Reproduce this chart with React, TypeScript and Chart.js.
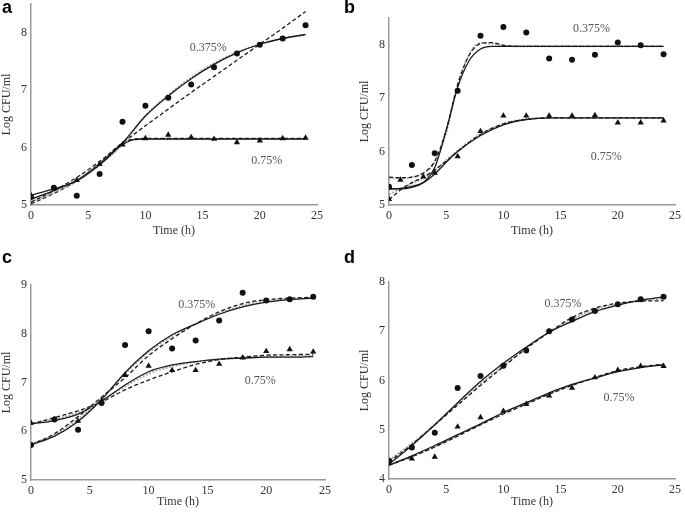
import React, { useEffect, useRef } from "react";
import { Chart, registerables } from "chart.js";

Chart.register(...registerables);

// ---------- Panel a ----------
const aTime375 = [0, 2, 4, 6, 8, 10, 12, 14, 16, 18, 20, 22, 24];
const aLog375 = [5.14, 5.3, 5.16, 5.54, 6.45, 6.73, 6.87, 7.1, 7.4, 7.64, 7.79, 7.9, 8.13];
const aTime75 = [0, 2, 4, 6, 8, 10, 12, 14, 16, 18, 20, 22, 24];
const aLog75 = [5.17, 5.29, 5.43, 5.71, 6.05, 6.16, 6.22, 6.18, 6.15, 6.09, 6.12, 6.16, 6.17];
const aFitTime375 = [0, 2, 4, 6, 8, 10, 12, 14, 16, 18, 20, 22, 24];
const aFitSolid375 = [5.17, 5.28, 5.42, 5.7, 6.08, 6.55, 6.9, 7.2, 7.45, 7.65, 7.8, 7.9, 7.97];
const aFitDash375 = [5.05, 5.25, 5.48, 5.76, 6.08, 6.38, 6.67, 6.96, 7.24, 7.52, 7.8, 8.08, 8.37];
const aFitGray375 = [5.05, 5.22, 5.42, 5.7, 6.06, 6.55, 6.92, 7.22, 7.47, 7.66, 7.8, 7.9, 7.96];
const aFitTime75 = [0, 2, 4, 6, 8, 9, 10, 12, 16, 20, 24];
const aFitSolid75 = [5.1, 5.25, 5.43, 5.72, 6.05, 6.14, 6.15, 6.15, 6.15, 6.15, 6.15];
const aFitDash75 = [5.02, 5.2, 5.42, 5.72, 6.08, 6.15, 6.16, 6.16, 6.16, 6.16, 6.16];
const aFitGray75 = [5.05, 5.22, 5.42, 5.71, 6.06, 6.14, 6.15, 6.15, 6.15, 6.15, 6.15];

// ---------- Panel b ----------
const bTime375 = [0, 2, 4, 6, 8, 10, 12, 14, 16, 18, 20, 22, 24];
const bLog375 = [5.34, 5.75, 5.97, 7.14, 8.17, 8.33, 8.23, 7.74, 7.72, 7.81, 8.04, 7.99, 7.82];
const bTime75 = [0, 1, 3, 4, 6, 8, 10, 12, 14, 16, 18, 20, 22, 24];
const bLog75 = [5.11, 5.47, 5.53, 5.6, 5.91, 6.38, 6.67, 6.67, 6.67, 6.67, 6.68, 6.54, 6.54, 6.58];
const bFitTime375 = [0, 1, 2, 3, 4, 5, 6, 7, 8, 9, 10, 12, 16, 20, 24];
const bFitSolid375 = [5.3, 5.3, 5.33, 5.42, 5.7, 6.4, 7.2, 7.7, 7.92, 7.97, 7.97, 7.97, 7.97, 7.97, 7.97];
const bFitDash375 = [5.52, 5.51, 5.52, 5.6, 5.82, 6.4, 7.25, 7.8, 8.02, 8.04, 7.99, 7.97, 7.97, 7.97, 7.97];
const bFitGray375 = [5.5, 5.5, 5.52, 5.6, 5.8, 6.35, 7.25, 7.82, 8.03, 8.02, 7.98, 7.97, 7.97, 7.97, 7.97];
const bFitTime75 = [0, 1, 2, 3, 4, 5, 6, 8, 10, 12, 14, 16, 20, 24];
const bFitSolid75 = [5.3, 5.31, 5.35, 5.42, 5.58, 5.8, 6.0, 6.3, 6.5, 6.6, 6.63, 6.63, 6.63, 6.63];
const bFitDash75 = [5.1, 5.28, 5.42, 5.52, 5.66, 5.82, 6.0, 6.32, 6.52, 6.6, 6.63, 6.63, 6.63, 6.63];
const bFitGray75 = [5.2, 5.3, 5.4, 5.5, 5.64, 5.84, 6.02, 6.33, 6.52, 6.61, 6.63, 6.63, 6.63, 6.63];

// ---------- Panel c ----------
const cTime375 = [0, 2, 4, 6, 8, 10, 12, 14, 16, 18, 20, 22, 24];
const cLog375 = [5.72, 6.24, 6.03, 6.58, 7.77, 8.05, 7.7, 7.86, 8.27, 8.84, 8.68, 8.71, 8.76];
const cTime75 = [0, 2, 4, 6, 8, 10, 12, 14, 16, 18, 20, 22, 24];
const cLog75 = [6.17, 6.25, 6.21, 6.62, 7.15, 7.34, 7.25, 7.25, 7.38, 7.51, 7.64, 7.68, 7.63];
const cFitTime = [0, 2, 4, 6, 8, 10, 12, 14, 16, 18, 20, 22, 24];
const cFitSolid375 = [5.72, 5.9, 6.2, 6.65, 7.2, 7.65, 7.98, 8.2, 8.4, 8.55, 8.65, 8.7, 8.73];
const cFitDash375 = [5.72, 5.95, 6.3, 6.7, 7.1, 7.55, 7.9, 8.2, 8.45, 8.62, 8.7, 8.73, 8.75];
const cFitGray375 = [5.74, 5.93, 6.25, 6.68, 7.18, 7.62, 7.95, 8.2, 8.42, 8.58, 8.67, 8.71, 8.74];
const cFitSolid75 = [6.15, 6.22, 6.35, 6.62, 6.95, 7.22, 7.36, 7.43, 7.48, 7.5, 7.52, 7.52, 7.53];
const cFitDash75 = [6.15, 6.28, 6.42, 6.6, 6.85, 7.05, 7.22, 7.37, 7.47, 7.52, 7.56, 7.57, 7.58];
const cFitGray75 = [6.15, 6.25, 6.38, 6.62, 6.92, 7.18, 7.33, 7.42, 7.48, 7.51, 7.53, 7.54, 7.55];

// ---------- Panel d ----------
const dTime375 = [0, 2, 4, 6, 8, 10, 12, 14, 16, 18, 20, 22, 24];
const dLog375 = [4.37, 4.64, 4.94, 5.85, 6.09, 6.3, 6.61, 7.0, 7.24, 7.41, 7.55, 7.65, 7.7];
const dTime75 = [0, 2, 4, 6, 8, 10, 12, 14, 16, 18, 20, 22, 24];
const dLog75 = [4.32, 4.41, 4.45, 5.06, 5.25, 5.38, 5.52, 5.69, 5.85, 6.06, 6.21, 6.29, 6.29];
const dFitTime = [0, 2, 4, 6, 8, 10, 12, 14, 16, 18, 20, 22, 24];
const dFitSolid375 = [4.3, 4.68, 5.1, 5.55, 5.98, 6.35, 6.68, 6.98, 7.2, 7.4, 7.53, 7.63, 7.7];
const dFitDash375 = [4.35, 4.7, 5.1, 5.5, 5.9, 6.28, 6.65, 6.98, 7.28, 7.47, 7.57, 7.61, 7.62];
const dFitGray375 = [4.38, 4.72, 5.1, 5.52, 5.93, 6.3, 6.66, 6.98, 7.24, 7.44, 7.55, 7.62, 7.66];
const dFitSolid75 = [4.28, 4.47, 4.68, 4.9, 5.12, 5.35, 5.55, 5.75, 5.92, 6.05, 6.18, 6.26, 6.32];
const dFitDash75 = [4.28, 4.45, 4.65, 4.87, 5.1, 5.32, 5.52, 5.72, 5.9, 6.06, 6.2, 6.28, 6.33];
const dFitGray75 = [4.28, 4.46, 4.66, 4.88, 5.11, 5.33, 5.53, 5.73, 5.91, 6.06, 6.19, 6.27, 6.32];

const xTickLabels = [0, 5, 10, 15, 20, 25];
const concLabels = ["0.375%", "0.75%"];

const SERIF = "'Liberation Serif', 'Times New Roman', serif";

const zip = (xs: number[], ys: number[]) => xs.map((x, i) => ({ x, y: ys[i] }));

const pointsDs = (xs: number[], ys: number[], style: string, r: number) => ({
  data: zip(xs, ys),
  showLine: false,
  pointStyle: style,
  pointRadius: r,
  pointBackgroundColor: "#111",
  pointBorderColor: "#111",
  pointBorderWidth: 0,
});

const curveDs = (xs: number[], ys: number[], kind: "solid" | "dash" | "gray") => ({
  data: zip(xs, ys),
  showLine: true,
  pointRadius: 0,
  borderColor: kind === "gray" ? "#a8a8a8" : "#1a1a1a",
  borderWidth: kind === "gray" ? 1.8 : 1.3,
  borderDash: kind === "solid" ? [] : kind === "dash" ? [4, 2.5] : [2, 1.5],
  cubicInterpolationMode: "monotone",
  fill: false,
});

const labelPlugin = {
  id: "concLabels",
  afterDatasetsDraw(chart: any, _args: any, opts: any) {
    const { ctx, scales } = chart;
    ctx.save();
    ctx.font = `12px ${SERIF}`;
    ctx.fillStyle = "#555";
    ctx.textAlign = "center";
    ctx.textBaseline = "middle";
    (opts.items || []).forEach((it: any) => {
      ctx.fillText(it.text, scales.x.getPixelForValue(it.x), scales.y.getPixelForValue(it.y));
    });
    ctx.restore();
  },
};

type Panel = {
  letter: string;
  left: number;
  top: number;
  w: number;
  h: number;
  yMin: number;
  yMax: number;
  yWidth: number;
  xHeight: number;
  pad: { left: number; right: number; top: number; bottom: number };
  datasets: any[];
  labels: { text: string; x: number; y: number }[];
};

const panels: Panel[] = [
  {
    letter: "a", left: 0, top: 0, w: 342, h: 250, yMin: 5, yMax: 8.5, yWidth: 31, xHeight: 37,
    pad: { left: 0, right: 25, top: 0, bottom: 8 },
    datasets: [
      pointsDs(aTime375, aLog375, "circle", 3),
      pointsDs(aTime75, aLog75, "triangle", 3.6),
      curveDs(aFitTime375, aFitSolid375, "solid"),
      curveDs(aFitTime375, aFitDash375, "dash"),
      curveDs(aFitTime375, aFitGray375, "gray"),
      curveDs(aFitTime75, aFitSolid75, "solid"),
      curveDs(aFitTime75, aFitDash75, "dash"),
      curveDs(aFitTime75, aFitGray75, "gray"),
    ],
    labels: [
      { text: concLabels[0], x: 15.5, y: 7.74 },
      { text: concLabels[1], x: 20.6, y: 5.77 },
    ],
  },
  {
    letter: "b", left: 342, top: 0, w: 343, h: 250, yMin: 5, yMax: 8.5, yWidth: 31, xHeight: 37,
    pad: { left: 16, right: 3, top: 18, bottom: 8 },
    datasets: [
      pointsDs(bTime375, bLog375, "circle", 3),
      pointsDs(bTime75, bLog75, "triangle", 3.6),
      curveDs(bFitTime375, bFitSolid375, "solid"),
      curveDs(bFitTime375, bFitDash375, "dash"),
      curveDs(bFitTime375, bFitGray375, "gray"),
      curveDs(bFitTime75, bFitSolid75, "solid"),
      curveDs(bFitTime75, bFitDash75, "dash"),
      curveDs(bFitTime75, bFitGray75, "gray"),
    ],
    labels: [
      { text: concLabels[0], x: 17.7, y: 8.3 },
      { text: concLabels[1], x: 19.0, y: 5.9 },
    ],
  },
  {
    letter: "c", left: 0, top: 250, w: 342, h: 263, yMin: 5, yMax: 9, yWidth: 31, xHeight: 33,
    pad: { left: 0, right: 17, top: 35, bottom: 0 },
    datasets: [
      pointsDs(cTime375, cLog375, "circle", 3),
      pointsDs(cTime75, cLog75, "triangle", 3.6),
      curveDs(cFitTime, cFitSolid375, "solid"),
      curveDs(cFitTime, cFitDash375, "dash"),
      curveDs(cFitTime, cFitGray375, "gray"),
      curveDs(cFitTime, cFitSolid75, "solid"),
      curveDs(cFitTime, cFitDash75, "dash"),
      curveDs(cFitTime, cFitGray75, "gray"),
    ],
    labels: [
      { text: concLabels[0], x: 14.1, y: 8.6 },
      { text: concLabels[1], x: 19.5, y: 7.04 },
    ],
  },
  {
    letter: "d", left: 342, top: 250, w: 343, h: 263, yMin: 4, yMax: 8, yWidth: 31, xHeight: 34,
    pad: { left: 16, right: 3, top: 32, bottom: 0 },
    datasets: [
      pointsDs(dTime375, dLog375, "circle", 3),
      pointsDs(dTime75, dLog75, "triangle", 3.6),
      curveDs(dFitTime, dFitSolid375, "solid"),
      curveDs(dFitTime, dFitDash375, "dash"),
      curveDs(dFitTime, dFitGray375, "gray"),
      curveDs(dFitTime, dFitSolid75, "solid"),
      curveDs(dFitTime, dFitDash75, "dash"),
      curveDs(dFitTime, dFitGray75, "gray"),
    ],
    labels: [
      { text: concLabels[0], x: 15.2, y: 7.55 },
      { text: concLabels[1], x: 20.1, y: 5.64 },
    ],
  },
];

function PanelChart({ p }: { p: Panel }) {
  const ref = useRef<HTMLCanvasElement | null>(null);
  useEffect(() => {
    if (!ref.current) return;
    const chart = new Chart(ref.current, {
      type: "scatter",
      data: { datasets: p.datasets },
      plugins: [labelPlugin],
      options: {
        animation: false,
        responsive: false,
        layout: { padding: p.pad },
        plugins: {
          legend: { display: false },
          tooltip: { enabled: false },
          concLabels: { items: p.labels },
        } as any,
        scales: {
          x: {
            type: "linear",
            min: 0,
            max: 25,
            afterBuildTicks: (s: any) => {
              s.ticks = xTickLabels.map((v) => ({ value: v }));
            },
            afterFit: (s: any) => {
              s.height = p.xHeight;
            },
            grid: { display: false, drawTicks: false },
            border: { display: true, color: "#9a9a9a", width: 1.5 },
            ticks: { color: "#333", font: { family: SERIF, size: 12 }, padding: 4 },
            title: {
              display: true,
              text: "Time (h)",
              color: "#333",
              font: { family: SERIF, size: 12 },
              padding: { top: 2, bottom: 4 },
            },
          },
          y: {
            type: "linear",
            min: p.yMin,
            max: p.yMax,
            afterBuildTicks: (s: any) => {
              s.ticks = s.ticks.filter((t: any) => Number.isInteger(t.value));
            },
            afterFit: (s: any) => {
              s.width = p.yWidth;
            },
            grid: { display: false, drawTicks: false },
            border: { display: true, color: "#9a9a9a", width: 1.5 },
            ticks: { stepSize: 1, color: "#333", font: { family: SERIF, size: 12, lineHeight: 0.01 }, padding: 4 },
            title: {
              display: true,
              text: "Log CFU/ml",
              color: "#333",
              font: { family: SERIF, size: 12 },
              padding: { top: 0, bottom: 2 },
            },
          },
        },
      } as any,
    });
    return () => chart.destroy();
  }, [p]);
  return (
    <div style={{ position: "absolute", left: p.left, top: p.top, width: p.w, height: p.h }}>
      <canvas ref={ref} width={p.w} height={p.h} style={{ width: p.w, height: p.h, display: "block" }} />
      <div
        style={{
          position: "absolute",
          left: 2,
          top: -2,
          fontFamily: "'Liberation Sans', Arial, sans-serif",
          fontWeight: "bold",
          fontSize: 18,
          color: "#000",
          lineHeight: "18px",
        }}
      >
        {p.letter}
      </div>
    </div>
  );
}

export default function App() {
  return (
    <div style={{ position: "fixed", left: 0, top: 0, width: 685, height: 513, background: "#fff", overflow: "hidden" }}>
      {panels.map((p) => (
        <PanelChart key={p.letter} p={p} />
      ))}
    </div>
  );
}
